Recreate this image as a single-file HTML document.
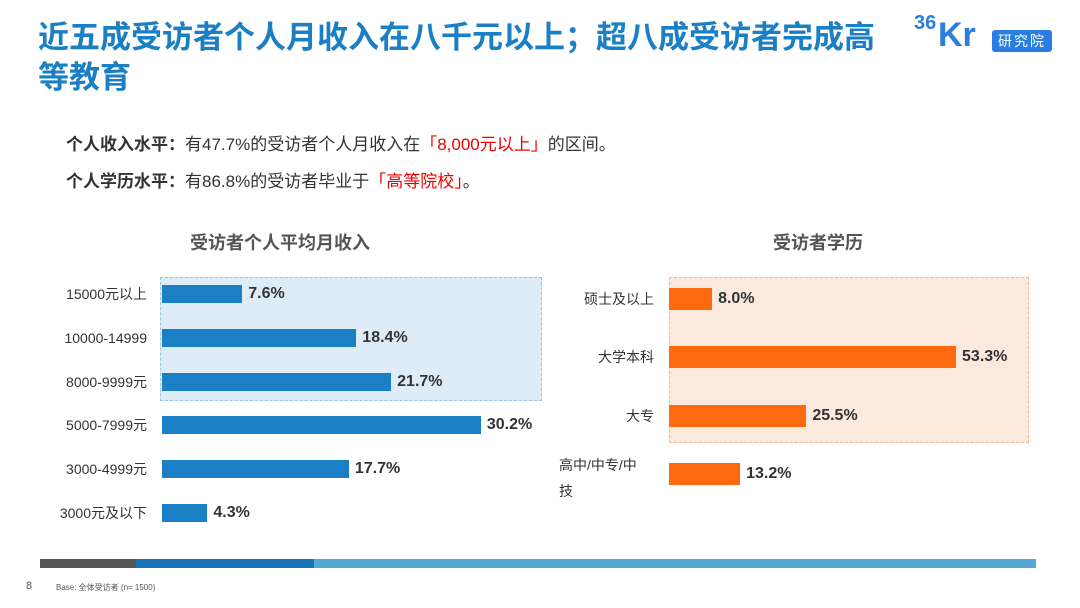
<!DOCTYPE html>
<html><head><meta charset="utf-8"><style>
body{margin:0;width:1080px;height:608px;background:#fff;font-family:"Liberation Sans","Noto Sans CJK SC",sans-serif;position:relative;overflow:hidden}
.a{position:absolute}
</style></head><body>
<div class="a" style="left:38px;top:18px;width:860px;font-size:31px;font-weight:bold;color:#1a7fc4;line-height:40px;white-space:nowrap">近五成受访者个人月收入在八千元以上；超八成受访者完成高<br>等教育</div>
<div class="a" style="left:914px;top:12px;width:150px;height:40px">
<span class="a" style="left:0;top:0;font-size:20px;font-weight:bold;color:#2a7de1">36</span>
<span class="a" style="left:24px;top:6px;font-size:34px;font-weight:bold;color:#2a7de1;line-height:34px">Kr</span>
<span class="a" style="left:78px;top:18px;background:#2a7de1;color:#fff;font-size:14px;padding:1px 6px;border-radius:3px;letter-spacing:2px">研究院</span>
</div>
<div class="a" style="left:66px;top:130px;font-size:17px;color:#333"><b>个人收入水平：</b>有47.7%的受访者个人月收入在<span style="color:#e00">「8,000元以上」</span>的区间。</div>
<div class="a" style="left:66px;top:167px;font-size:17px;color:#333"><b>个人学历水平：</b>有86.8%的受访者毕业于<span style="color:#e00">「高等院校」</span>。</div>
<div class="a" style="left:190px;top:229px;font-size:18px;font-weight:bold;color:#555">受访者个人平均月收入</div>
<div class="a" style="left:773px;top:229px;font-size:18px;font-weight:bold;color:#555">受访者学历</div>
<div class="a" style="left:160px;top:277px;width:380px;height:122px;background:#deecf8;border:1px dashed #9cc3e4"></div>
<div class="a" style="left:669px;top:277px;width:358px;height:164px;background:#fbe9de;border:1px dashed #f0b898"></div>
<div id="charts"></div>
<div class="a" style="left:40px;top:559px;width:96px;height:9px;background:#555"></div>
<div class="a" style="left:136px;top:559px;width:178px;height:9px;background:#1a74b8"></div>
<div class="a" style="left:314px;top:559px;width:722px;height:9px;background:#55a7d4"></div>
<div class="a" style="left:26px;top:580px;font-size:11px;color:#555">8</div>
<div class="a" style="left:56px;top:582px;font-size:8px;color:#555">Base: 全体受访者 (n= 1500)</div>
<script>
const incomeCats=["15000元以上","10000-14999","8000-9999元","5000-7999元","3000-4999元","3000元及以下"];
const incomeVals=[7.6,18.4,21.7,30.2,17.7,4.3];
const eduCats=["硕士及以上","大学本科","大专","高中/中专/中技"];
const eduVals=[8.0,53.3,25.5,13.2];
const root=document.getElementById('charts');
function draw(cats,vals,x0,scale,y0,step,h,color,labelRight,nameP){
 cats.forEach((c,i)=>{
  const cy=y0+i*step;
  const l=document.createElement('div');
  l.className='a';
  
  
  l.style.cssText=`right:${1080-labelRight}px;top:${cy-10}px;font-size:14px;color:#333;text-align:right;line-height:20px`;
  if(c.length>6&&nameP==='education'){l.style.top=(cy-22)+'px';l.style.width='95px';l.style.lineHeight='26px';l.style.textAlign='left';l.innerHTML='高中/中专/中<br>技';}
  else l.textContent=c;
  root.appendChild(l);
  const b=document.createElement('div');
  b.className='a';
  
  
  const w=vals[i]*scale;
  b.style.cssText=`left:${x0}px;top:${cy-h/2}px;width:${w}px;height:${h}px;background:${color}`;
  root.appendChild(b);
  const v=document.createElement('div');
  v.className='a';
  
  
  v.style.cssText=`left:${x0+w+6}px;top:${cy-11}px;font-size:16px;font-weight:bold;color:#333;line-height:22px`;
  v.textContent=vals[i].toFixed(1)+'%';
  root.appendChild(v);
 });
}
draw(incomeCats,incomeVals,162,10.56,294,43.8,18,'#1a7fc4',147,'income');
draw(eduCats,eduVals,669,5.385,299,58.3,22,'#ff6a10',654,'education');
</script>
</body></html>
